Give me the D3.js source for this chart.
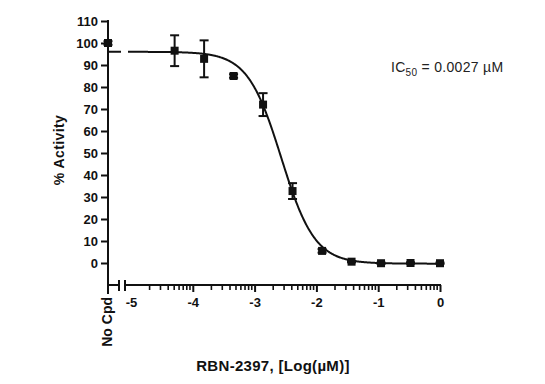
<!DOCTYPE html>
<html>
<head>
<meta charset="utf-8">
<script src="https://cdn.jsdelivr.net/npm/d3@7"></script>
<style>
  html, body { margin: 0; padding: 0; background: #fff; }
  svg { display: block; font-family: "Liberation Sans", Arial, sans-serif; }
</style>
</head>
<body>
<svg id="chart" width="545" height="384"></svg>
<script>
// ---- Data ----
const logDose  = [-4.294, -3.817, -3.340, -2.863, -2.386, -1.908, -1.431, -0.954, -0.477, 0];
const activity = [96.5, 92.8, 85.0, 72.0, 32.7, 5.5, 0.6, -0.1, 0.0, -0.1];
const sem      = [7.0, 8.4, 0.8, 5.2, 3.6, 0.8, 0.3, 0.3, 0.3, 0.3];
const noCpdValue = 100.0;
const noCpdSem = 0.8;
const noCpdLabel = "No Cpd";
// fitted 4-parameter logistic curve
const fitTop = 96.0, fitBottom = -0.3, fitIC50uM = 0.0027, fitHill = 1.6;
const yTicks = [0, 10, 20, 30, 40, 50, 60, 70, 80, 90, 100, 110];
const xMajorTicks = [-5, -4, -3, -2, -1, 0];
const xTitle = "RBN-2397, [Log(\u00B5M)]";
const yTitle = "% Activity";

// ---- Layout ----
const svg = d3.select("#chart");
const xLeft = -5.372;            // position of "No Cpd" / axis origin
const x = d3.scaleLinear().domain([xLeft, 0]).range([108, 440]);
const y = d3.scaleLinear().domain([-10, 110]).range([285, 21]);
const breakPx = [119, 125];
const ink = "#111";

// Y axis
const yAxis = d3.axisLeft(y).tickValues(yTicks).tickSize(7).tickPadding(3).tickSizeOuter(0);
const gy = svg.append("g").attr("transform", `translate(${x(xLeft)},0)`).call(yAxis);
gy.select(".domain").remove();
gy.selectAll(".tick line").attr("stroke", ink).attr("stroke-width", 2);
gy.selectAll(".tick text").attr("fill", ink).style("font-size", "13px").style("font-weight", "bold");
svg.append("line").attr("x1", x(xLeft)).attr("x2", x(xLeft))
  .attr("y1", y(110) - 1).attr("y2", y(-10) + 9)
  .attr("stroke", ink).attr("stroke-width", 2);

// X axis line with break
svg.append("line").attr("x1", x(xLeft)).attr("x2", breakPx[0])
  .attr("y1", y(-10)).attr("y2", y(-10)).attr("stroke", ink).attr("stroke-width", 2);
svg.append("line").attr("x1", breakPx[1]).attr("x2", x(0) + 1)
  .attr("y1", y(-10)).attr("y2", y(-10)).attr("stroke", ink).attr("stroke-width", 2);
breakPx.forEach(bx => {
  svg.append("line").attr("x1", bx).attr("x2", bx)
    .attr("y1", y(-10) - 5).attr("y2", y(-10) + 6)
    .attr("stroke", ink).attr("stroke-width", 2);
});

// X major ticks + labels
const xAxis = d3.axisBottom(x).tickValues(xMajorTicks).tickSize(7).tickPadding(6)
  .tickSizeOuter(0).tickFormat(d => String(d));
const gx = svg.append("g").attr("transform", `translate(0,${y(-10)})`).call(xAxis);
gx.select(".domain").remove();
gx.selectAll(".tick line").attr("stroke", ink).attr("stroke-width", 2)
  .attr("opacity", d => d === -5 ? 0 : 1);
gx.selectAll(".tick text").attr("fill", ink).style("font-size", "13px").style("font-weight", "bold");

// X minor (log) ticks
const minor = [];
for (let dec = -5; dec < 0; dec++) {
  for (let k = 2; k <= 9; k++) minor.push(dec + Math.log10(k));
}
svg.append("g").selectAll("line").data(minor).join("line")
  .attr("x1", d => x(d)).attr("x2", d => x(d))
  .attr("y1", y(-10)).attr("y2", y(-10) + 5)
  .attr("stroke", ink).attr("stroke-width", 1.6);

// "No Cpd" label
svg.append("text")
  .attr("transform", `translate(${x(xLeft) + 4},${y(-10) + 12}) rotate(-90)`)
  .attr("text-anchor", "end")
  .attr("fill", ink).style("font-size", "14px").style("font-weight", "bold")
  .text(noCpdLabel);

// Titles
svg.append("text")
  .attr("transform", `translate(64,150) rotate(-90)`)
  .attr("text-anchor", "middle")
  .attr("fill", ink).style("font-size", "14px").style("font-weight", "bold")
  .style("letter-spacing", "0.4px")
  .text(yTitle);
svg.append("text")
  .attr("x", 273).attr("y", 371)
  .attr("text-anchor", "middle")
  .attr("fill", ink).style("font-size", "15px").style("font-weight", "bold")
  .style("letter-spacing", "0.3px")
  .text(xTitle);

// IC50 annotation
const ic = svg.append("text").attr("x", 391).attr("y", 72)
  .attr("fill", "#222").style("font-size", "14px").style("letter-spacing", "0.3px");
ic.append("tspan").text("IC");
ic.append("tspan").attr("dy", 4).style("font-size", "10px").text("50");
ic.append("tspan").attr("dy", -4).text(" = " + fitIC50uM + " \u00B5M");

// Fitted curve
const logIC50 = Math.log10(fitIC50uM);
const fit = v => fitBottom + (fitTop - fitBottom) / (1 + Math.pow(10, (v - logIC50) * fitHill));
const line = d3.line().x(d => x(d)).y(d => y(fit(d)));
const seg1 = d3.range(x.invert(109), x.invert(121), 0.01).concat([x.invert(121)]);
const seg2 = d3.range(x.invert(128), 0, 0.01).concat([0]);
[seg1, seg2].forEach(seg => {
  svg.append("path").datum(seg).attr("d", line)
    .attr("fill", "none").attr("stroke", ink).attr("stroke-width", 2);
});

// Error bars + markers
const pts = logDose.map((d, i) => ({ x: d, y: activity[i], e: sem[i] }));
pts.unshift({ x: xLeft, y: noCpdValue, e: noCpdSem });
const cap = 4.5;
const eg = svg.append("g").attr("stroke", ink).attr("stroke-width", 2);
pts.forEach(p => {
  eg.append("line").attr("x1", x(p.x)).attr("x2", x(p.x))
    .attr("y1", y(p.y + p.e)).attr("y2", y(p.y - p.e));
  [p.y + p.e, p.y - p.e].forEach(v => {
    eg.append("line").attr("x1", x(p.x) - cap).attr("x2", x(p.x) + cap)
      .attr("y1", y(v)).attr("y2", y(v));
  });
});
const ms = 8;
svg.append("g").selectAll("rect").data(pts).join("rect")
  .attr("x", d => x(d.x) - ms / 2).attr("y", d => y(d.y) - ms / 2)
  .attr("width", ms).attr("height", ms).attr("fill", ink);
</script>
</body>
</html>
